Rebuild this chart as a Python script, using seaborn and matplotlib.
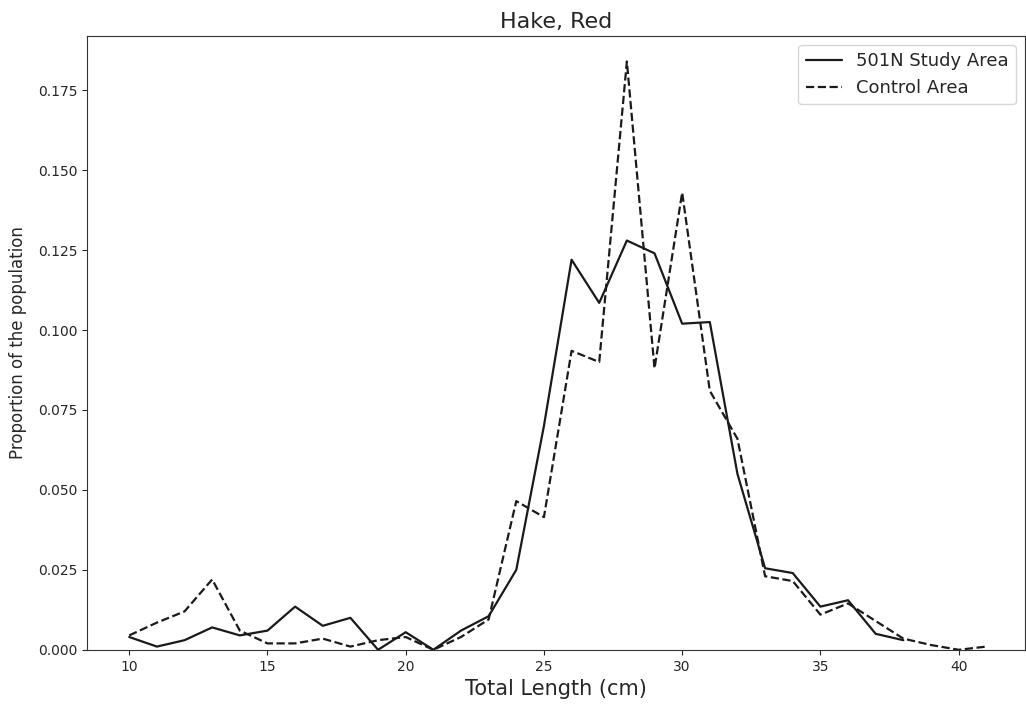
import numpy as np
import pandas as pd
import matplotlib
matplotlib.use('Agg')
import matplotlib.pyplot as plt
import seaborn as sns

# Length-frequency proportions
study_lengths = list(range(10, 39))
study_props = [0.004, 0.001, 0.003, 0.007, 0.0045, 0.006, 0.0135, 0.0075, 0.010, 0.0,
               0.0055, 0.0, 0.006, 0.0105, 0.025, 0.070, 0.122, 0.1085, 0.128, 0.124,
               0.102, 0.1025, 0.055, 0.0255, 0.024, 0.0135, 0.0155, 0.005, 0.003]

control_lengths = list(range(10, 42))
control_props = [0.0045, 0.0085, 0.012, 0.022, 0.006, 0.002, 0.002, 0.0035, 0.001, 0.003,
                 0.004, 0.0, 0.004, 0.0095, 0.0465, 0.0415, 0.0935, 0.090, 0.184, 0.088,
                 0.143, 0.081, 0.066, 0.023, 0.0215, 0.011, 0.0145, 0.009, 0.0035, 0.0015,
                 0.0, 0.001]

study = pd.DataFrame({'length': study_lengths, 'prop': study_props})
control = pd.DataFrame({'length': control_lengths, 'prop': control_props})

sns.set_style('ticks')
plt.rcParams['font.family'] = ['DejaVu Sans']

fig, ax = plt.subplots(figsize=(10.26, 7.04), dpi=100)
sns.lineplot(data=study, x='length', y='prop', color='#1a1a1a', linewidth=1.6,
             label='501N Study Area', ax=ax)
sns.lineplot(data=control, x='length', y='prop', color='#1a1a1a', linewidth=1.6,
             linestyle='--', label='Control Area', ax=ax)

ax.set_xlim(8.48, 42.4)
ax.set_ylim(0, 0.192)
ax.set_xticks([10, 15, 20, 25, 30, 35, 40])
ax.set_yticks([0, 0.025, 0.05, 0.075, 0.1, 0.125, 0.15, 0.175])
ax.set_yticklabels(['0.000', '0.025', '0.050', '0.075', '0.100', '0.125', '0.150', '0.175'])
ax.tick_params(labelsize=10)
ax.set_title('Hake, Red', fontsize=16)
ax.set_xlabel('Total Length (cm)', fontsize=15)
ax.set_ylabel('Proportion of the population', fontsize=12, labelpad=8)
ax.legend(fontsize=13, loc='upper right', frameon=True)
for s in ax.spines.values():
    s.set_color('#333333')

plt.subplots_adjust(left=0.085, right=0.999, top=0.949, bottom=0.077)
plt.savefig('out.png', dpi=100)
